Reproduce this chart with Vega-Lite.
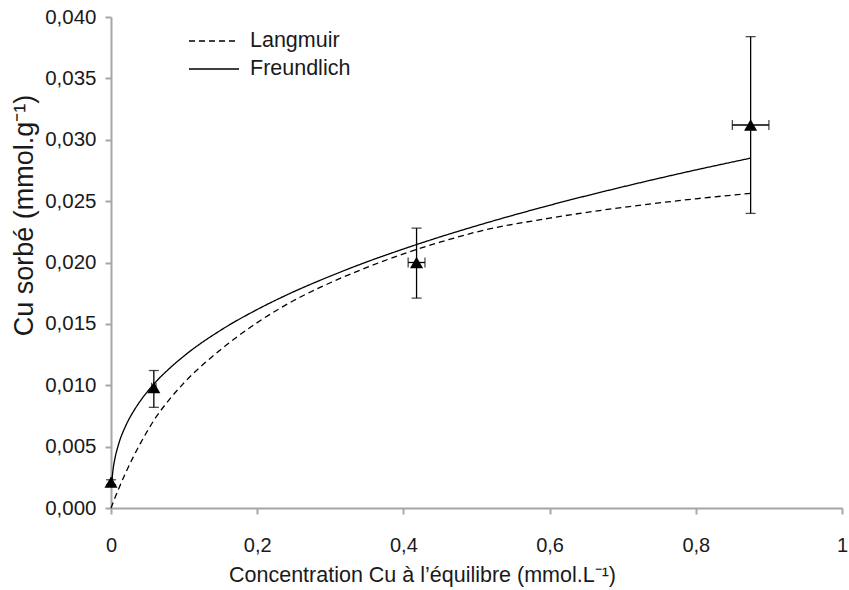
{
  "$schema": "https://vega.github.io/schema/vega-lite/v6.json",
  "width": 731,
  "height": 491,
  "autosize": {"type": "none"},
  "padding": {"left": 111, "top": 17, "right": 7, "bottom": 82},
  "background": "white",
  "config": {
    "view": {"stroke": null},
    "font": "Liberation Sans",
    "axis": {
      "grid": false,
      "domainColor": "#a6a6a6",
      "domainWidth": 2,
      "tickColor": "#a6a6a6",
      "tickWidth": 2,
      "tickSize": 6,
      "labelColor": "#1a1a1a",
      "titleColor": "#1a1a1a",
      "labelFont": "Liberation Sans",
      "titleFont": "Liberation Sans",
      "labelFontSize": 20.5,
      "titleFontSize": 21.5,
      "titleFontWeight": "normal"
    }
  },
  "datasets": {
    "curves": [
      {"C": 0.0, "q": 0.0, "model": "Langmuir"},
      {"C": 0.003, "q": 0.000465, "model": "Langmuir"},
      {"C": 0.005, "q": 0.000767, "model": "Langmuir"},
      {"C": 0.01, "q": 0.001497, "model": "Langmuir"},
      {"C": 0.02, "q": 0.002858, "model": "Langmuir"},
      {"C": 0.03, "q": 0.004102, "model": "Langmuir"},
      {"C": 0.04, "q": 0.005241, "model": "Langmuir"},
      {"C": 0.06, "q": 0.007258, "model": "Langmuir"},
      {"C": 0.08, "q": 0.00885, "model": "Langmuir"},
      {"C": 0.1, "q": 0.0102, "model": "Langmuir"},
      {"C": 0.15, "q": 0.0129, "model": "Langmuir"},
      {"C": 0.2, "q": 0.0151, "model": "Langmuir"},
      {"C": 0.25, "q": 0.0169, "model": "Langmuir"},
      {"C": 0.3, "q": 0.01835, "model": "Langmuir"},
      {"C": 0.35, "q": 0.0196, "model": "Langmuir"},
      {"C": 0.4, "q": 0.0207, "model": "Langmuir"},
      {"C": 0.45, "q": 0.02165, "model": "Langmuir"},
      {"C": 0.5, "q": 0.022487, "model": "Langmuir"},
      {"C": 0.6, "q": 0.023613, "model": "Langmuir"},
      {"C": 0.7, "q": 0.024489, "model": "Langmuir"},
      {"C": 0.8, "q": 0.02519, "model": "Langmuir"},
      {"C": 0.875, "q": 0.025631, "model": "Langmuir"},
      {"C": 0.001, "q": 0.00211, "model": "Freundlich"},
      {"C": 0.003, "q": 0.00322, "model": "Freundlich"},
      {"C": 0.005, "q": 0.00392, "model": "Freundlich"},
      {"C": 0.01, "q": 0.00512, "model": "Freundlich"},
      {"C": 0.02, "q": 0.00668, "model": "Freundlich"},
      {"C": 0.03, "q": 0.0078, "model": "Freundlich"},
      {"C": 0.04, "q": 0.00871, "model": "Freundlich"},
      {"C": 0.06, "q": 0.01019, "model": "Freundlich"},
      {"C": 0.08, "q": 0.01137, "model": "Freundlich"},
      {"C": 0.1, "q": 0.01239, "model": "Freundlich"},
      {"C": 0.15, "q": 0.01448, "model": "Freundlich"},
      {"C": 0.2, "q": 0.01617, "model": "Freundlich"},
      {"C": 0.25, "q": 0.01762, "model": "Freundlich"},
      {"C": 0.3, "q": 0.01889, "model": "Freundlich"},
      {"C": 0.35, "q": 0.02005, "model": "Freundlich"},
      {"C": 0.4, "q": 0.0211, "model": "Freundlich"},
      {"C": 0.45, "q": 0.02208, "model": "Freundlich"},
      {"C": 0.5, "q": 0.02299, "model": "Freundlich"},
      {"C": 0.6, "q": 0.02466, "model": "Freundlich"},
      {"C": 0.7, "q": 0.02616, "model": "Freundlich"},
      {"C": 0.8, "q": 0.02754, "model": "Freundlich"},
      {"C": 0.875, "q": 0.0285, "model": "Freundlich"}
    ],
    "points": [
      {"C": 0.0, "q": 0.0021, "qlo": 0.0019, "qhi": 0.0023, "clo": 0.0, "chi": 0.002},
      {"C": 0.0586, "q": 0.0098, "qlo": 0.0082, "qhi": 0.0112, "clo": 0.0556, "chi": 0.0616},
      {"C": 0.418, "q": 0.02, "qlo": 0.0171, "qhi": 0.0228, "clo": 0.4065, "chi": 0.4295},
      {"C": 0.875, "q": 0.0312, "qlo": 0.024, "qhi": 0.0384, "clo": 0.85, "chi": 0.9}
    ]
  },
  "layer": [
    {
      "data": {"name": "curves"},
      "mark": {"type": "line", "color": "black", "strokeWidth": 1.3, "interpolate": "monotone"},
      "encoding": {
        "x": {
          "field": "C", "type": "quantitative",
          "title": "Concentration Cu à l’équilibre (mmol.L⁻¹)",
          "scale": {"domain": [0, 1], "nice": false, "zero": false},
          "axis": {
            "values": [0, 0.2, 0.4, 0.6, 0.8, 1],
            "labelExpr": "replace(format(datum.value, '.1~f'), '.', ',')",
            "labelFlush": false,
            "labelFontSize": 20,
            "labelPadding": 21,
            "titlePadding": 9,
            "titleX": 311
          }
        },
        "y": {
          "field": "q", "type": "quantitative",
          "title": "Cu sorbé (mmol.g⁻¹)",
          "scale": {"domain": [0, 0.04], "nice": false},
          "axis": {
            "values": [0, 0.005, 0.01, 0.015, 0.02, 0.025, 0.03, 0.035, 0.04],
            "labelExpr": "replace(format(datum.value, '.3f'), '.', ',')",
            "labelPadding": 9,
            "titlePadding": 6,
            "titleFontSize": 27,
            "titleY": 198
          }
        },
        "strokeDash": {
          "field": "model", "type": "nominal",
          "scale": {"domain": ["Langmuir", "Freundlich"], "range": [[6, 4], [1, 0]]},
          "legend": {
            "title": null,
            "orient": "none",
            "legendX": 77,
            "legendY": 15,
            "padding": 0,
            "symbolType": "stroke",
            "symbolSize": 2500,
            "clipHeight": 18,
            "symbolStrokeColor": "black",
            "symbolStrokeWidth": 1.3,
            "labelFontSize": 21.5,
            "labelFont": "Liberation Sans",
            "labelColor": "#1a1a1a",
            "labelOffset": 10,
            "rowPadding": 6
          }
        },
        "detail": {"field": "model"}
      }
    },
    {
      "data": {"name": "points"},
      "mark": {"type": "errorbar", "color": "black", "thickness": 1.3, "ticks": {"size": 10, "thickness": 1.3, "color": "black"}},
      "encoding": {
        "x": {"field": "C", "type": "quantitative", "title": "Concentration Cu à l’équilibre (mmol.L⁻¹)"},
        "y": {"field": "qlo", "type": "quantitative", "title": "Cu sorbé (mmol.g⁻¹)"},
        "y2": {"field": "qhi"}
      }
    },
    {
      "data": {"name": "points"},
      "mark": {"type": "errorbar", "color": "black", "thickness": 1.3, "ticks": {"size": 10, "thickness": 1.3, "color": "black"}},
      "encoding": {
        "y": {"field": "q", "type": "quantitative", "title": "Cu sorbé (mmol.g⁻¹)"},
        "x": {"field": "clo", "type": "quantitative", "title": "Concentration Cu à l’équilibre (mmol.L⁻¹)"},
        "x2": {"field": "chi"}
      }
    },
    {
      "data": {"name": "points"},
      "mark": {"type": "point", "shape": "triangle-up", "filled": true, "color": "black", "opacity": 1, "size": 170},
      "encoding": {
        "x": {"field": "C", "type": "quantitative", "title": "Concentration Cu à l’équilibre (mmol.L⁻¹)"},
        "y": {"field": "q", "type": "quantitative", "title": "Cu sorbé (mmol.g⁻¹)"}
      }
    }
  ]
}
